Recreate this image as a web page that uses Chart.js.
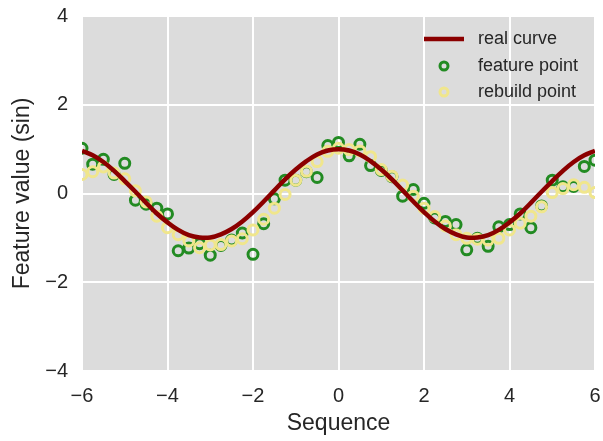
<!DOCTYPE html>
<html>
<head>
<meta charset="utf-8">
<script src="https://cdn.jsdelivr.net/npm/chart.js@4/dist/chart.umd.min.js"></script>
<style>
  html, body { margin:0; padding:0; background:#fff; }
  #wrap { width:603px; height:441px; position:relative; }
</style>
</head>
<body>
<div id="wrap"><canvas id="c"></canvas></div>
<script>
// sequence positions (step 0.25)
const seq = [-6,-5.75,-5.5,-5.25,-5,-4.75,-4.5,-4.25,-4,-3.75,-3.5,-3.25,-3,-2.75,-2.5,-2.25,-2,-1.75,-1.5,-1.25,-1,-0.75,-0.5,-0.25,
  0,0.25,0.5,0.75,1,1.25,1.5,1.75,2,2.25,2.5,2.75,3,3.25,3.5,3.75,4,4.25,4.5,4.75,5,5.25,5.5,5.75,6];

// real curve
const realCurve = [0.96,0.86,0.71,0.51,0.28,0.04,-0.21,-0.45,-0.65,-0.82,-0.94,-0.99,-0.99,-0.92,-0.80,-0.63,-0.42,-0.18,0.07,0.32,0.54,0.73,0.88,0.97,
  1.00,0.97,0.88,0.73,0.54,0.32,0.07,-0.18,-0.42,-0.63,-0.80,-0.92,-0.99,-0.99,-0.94,-0.82,-0.65,-0.45,-0.21,0.04,0.28,0.51,0.71,0.86,0.96];

// noisy feature points (green)
const featurePts = [1.02,0.66,0.77,0.43,0.68,-0.15,-0.24,-0.33,-0.46,-1.29,-1.23,-1.13,-1.39,-1.17,-1.05,-0.89,-1.37,-0.68,-0.12,0.30,0.30,0.49,0.36,1.08,
  1.15,0.85,1.11,0.63,0.52,0.38,-0.06,0.09,-0.22,-0.55,-0.63,-0.70,-1.27,-1.01,-1.19,-0.75,-0.70,-0.46,-0.77,-0.28,0.30,0.15,0.16,0.61,0.75];

// rebuilt points (yellow)
const rebuildPts = [0.43,0.49,0.60,0.46,0.33,0.06,-0.19,-0.51,-0.77,-0.93,-1.07,-1.22,-1.16,-1.15,-1.07,-1.02,-0.82,-0.58,-0.33,-0.02,0.30,0.50,0.72,0.95,
  1.02,0.99,0.96,0.83,0.54,0.39,0.19,-0.06,-0.33,-0.52,-0.73,-0.93,-1.01,-1.03,-1.05,-1.01,-0.82,-0.67,-0.51,-0.30,0.02,0.11,0.20,0.14,0.02];

const xTicks = [-6,-4,-2,0,2,4,6];
const yTicks = [-4,-2,0,2,4];

const FONT = '"Liberation Sans", Arial, sans-serif';
const TXT = '#262626';
const pts = arr => arr.map((v,i) => ({x:seq[i], y:v}));
const minus = v => String(v).replace('-', '\u2212');

const bgPlugin = {
  id:'bg',
  beforeDraw(chart){
    const {ctx, chartArea:a} = chart;
    ctx.save();
    ctx.fillStyle = '#dcdcdc';
    ctx.fillRect(a.left, a.top, a.right-a.left, a.bottom-a.top);
    ctx.restore();
  }
};

// legend drawn inside the plot, top right, no frame
const legendPlugin = {
  id:'inLegend',
  afterDraw(chart){
    const ctx = chart.ctx;
    const ds = chart.data.datasets;
    ctx.save();
    ctx.font = '18px ' + FONT;
    ctx.textBaseline = 'middle';
    const rows = [39, 66, 92];
    ds.forEach((d,i) => {
      const y = rows[i];
      ctx.strokeStyle = d.borderColor;
      ctx.lineWidth = d.borderWidth;
      ctx.beginPath();
      if (d.type === 'line') { ctx.moveTo(424, y); ctx.lineTo(464, y); }
      else { ctx.arc(444, y, 4, 0, Math.PI*2); }
      ctx.stroke();
      ctx.fillStyle = TXT;
      ctx.fillText(d.label, 478, y);
    });
    ctx.restore();
  }
};

new Chart(document.getElementById('c'), {
  data:{
    datasets:[
      {type:'line', label:'real curve', data:pts(realCurve), borderColor:'#8b0000', borderWidth:4.5,
       pointRadius:0, tension:0.4, fill:false, order:0},
      {type:'scatter', label:'feature point', data:pts(featurePts), borderColor:'#228b22', backgroundColor:'rgba(0,0,0,0)',
       borderWidth:3, pointRadius:5, pointHoverRadius:5, order:2},
      {type:'scatter', label:'rebuild point', data:pts(rebuildPts), borderColor:'#f0e68c', backgroundColor:'rgba(0,0,0,0)',
       borderWidth:3, pointRadius:5, pointHoverRadius:5, order:1}
    ]
  },
  options:{
    responsive:true,
    maintainAspectRatio:false,
    animation:false,
    layout:{padding:{top:16, right:6, left:0, bottom:0}},
    plugins:{legend:{display:false}, tooltip:{enabled:false}},
    scales:{
      x:{
        type:'linear', min:-6, max:6,
        afterBuildTicks: s => { s.ticks = xTicks.map(v => ({value:v})); },
        afterFit: s => { s.height = 70; s.paddingLeft = 0; s.paddingRight = 0; },
        ticks:{color:TXT, font:{family:FONT, size:20}, padding:13, callback:minus},
        grid:{color:'#ffffff', lineWidth:2, drawTicks:false},
        border:{display:false},
        title:{display:true, text:'Sequence', color:TXT, font:{family:FONT, size:23}, padding:{top:8}}
      },
      y:{
        type:'linear', min:-4, max:4,
        afterBuildTicks: s => { s.ticks = yTicks.map(v => ({value:v})); },
        afterFit: s => { s.width = 82; s.paddingTop = 0; s.paddingBottom = 0; },
        ticks:{color:TXT, font:{family:FONT, size:20}, padding:14, callback:minus},
        grid:{color:'#ffffff', lineWidth:2, drawTicks:false},
        border:{display:false},
        title:{display:true, text:'Feature value (sin)', color:TXT, font:{family:FONT, size:23}, padding:{top:9, bottom:4}}
      }
    }
  },
  plugins:[bgPlugin, legendPlugin]
});
</script>
</body>
</html>
